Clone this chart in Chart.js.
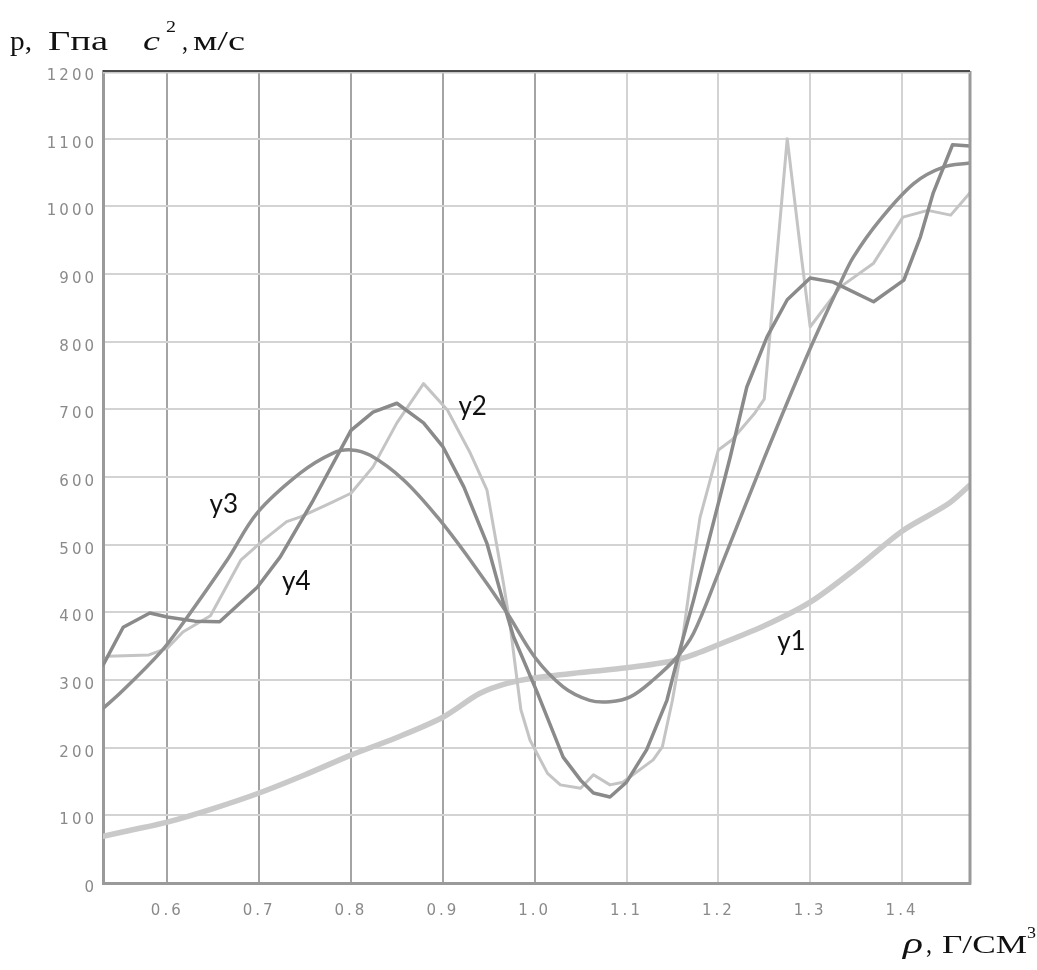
<!DOCTYPE html>
<html>
<head>
<meta charset="utf-8">
<script src="https://cdn.jsdelivr.net/npm/chart.js@4.4.1/dist/chart.umd.min.js"></script>
<style>
  html, body { margin: 0; padding: 0; background: #fff; }
  #wrap { position: relative; width: 1037px; height: 970px; }
</style>
</head>
<body>
<div id="wrap"><canvas id="chart"></canvas></div>
<script>
// axis ticks
const xTicks = [0.6, 0.7, 0.8, 0.9, 1.0, 1.1, 1.2, 1.3, 1.4];
const yTicks = [0, 100, 200, 300, 400, 500, 600, 700, 800, 900, 1000, 1100, 1200];
const xMin = 0.53, xMax = 1.474;

// y1 - pressure curve (light, thick)
const y1X = [0.53, 0.56, 0.6, 0.65, 0.7, 0.75, 0.8, 0.85, 0.9, 0.94, 0.97, 1.0, 1.05, 1.1, 1.15, 1.18, 1.2, 1.25, 1.3, 1.35, 1.4, 1.45, 1.474];
const y1Y = [69, 78, 90, 110, 133, 160, 189, 215, 245, 280, 295, 303, 311, 318, 328, 341, 352, 380, 415, 465, 520, 560, 588];

// y2 - light thin curve with spike
const y2X = [0.53, 0.535, 0.58, 0.6, 0.617, 0.647, 0.68, 0.705, 0.73, 0.745, 0.777, 0.8, 0.824, 0.85, 0.879, 0.905, 0.93, 0.948, 0.959, 0.966, 0.973, 0.978, 0.985, 0.995, 1.014, 1.028, 1.05, 1.064, 1.082, 1.096, 1.129, 1.139, 1.15, 1.159, 1.17, 1.18, 1.2, 1.215, 1.24, 1.25, 1.262, 1.275, 1.29, 1.3, 1.333, 1.369, 1.401, 1.428, 1.453, 1.474];
const y2Y = [322, 335, 337, 347, 371, 395, 477, 507, 534, 541, 561, 576, 615, 680, 738, 699, 635, 581, 497, 443, 384, 330, 256, 211, 162, 145, 140, 160, 145, 149, 182, 201, 270, 340, 450, 540, 640, 655, 695, 715, 900, 1100, 930, 822, 881, 916, 984, 994, 987, 1020];

// y3 - smooth dark curve
const y3X = [0.53, 0.549, 0.592, 0.617, 0.665, 0.698, 0.745, 0.78, 0.8, 0.821, 0.857, 0.894, 0.93, 0.97, 1.0, 1.031, 1.06, 1.082, 1.104, 1.129, 1.155, 1.173, 1.2, 1.25, 1.3, 1.333, 1.347, 1.376, 1.413, 1.445, 1.474];
const y3Y = [258, 281, 340, 384, 477, 547, 606, 635, 640, 632, 596, 541, 477, 399, 334, 290, 270, 268, 275, 300, 334, 369, 458, 628, 790, 887, 925, 980, 1034, 1058, 1064];

// y4 - dark curve with kinks
const y4X = [0.53, 0.552, 0.581, 0.6, 0.63, 0.657, 0.698, 0.723, 0.759, 0.8, 0.824, 0.85, 0.879, 0.9, 0.923, 0.948, 0.966, 0.977, 1.003, 1.031, 1.05, 1.064, 1.082, 1.1, 1.122, 1.144, 1.158, 1.173, 1.213, 1.231, 1.253, 1.275, 1.3, 1.325, 1.369, 1.402, 1.42, 1.434, 1.455, 1.474];
const y4Y = [322, 378, 399, 393, 387, 386, 437, 482, 566, 669, 696, 709, 680, 645, 585, 502, 414, 364, 281, 186, 152, 133, 127, 149, 197, 270, 344, 418, 630, 733, 807, 862, 894, 888, 859, 891, 955, 1020, 1091, 1089];

// curve names and where their labels sit (data space)
const seriesNames = ['y1', 'y2', 'y3', 'y4'];
const nameAtX = [1.264, 0.917, 0.646, 0.725];
const nameAtY = [344, 692, 547, 433];

function pts(xs, ys) {
    return xs.map((x, i) => ({ x: x, y: ys[i] }));
}

function fitText(ctx, text, x, y, font, width) {
    ctx.save();
    ctx.font = font;
    const w = ctx.measureText(text).width;
    ctx.translate(x, y);
    ctx.scale(width / w, 1);
    ctx.fillText(text, 0, 0);
    ctx.restore();
}

const spacing = {
    id: 'spacing',
    beforeDraw(chart) {
        chart.ctx.letterSpacing = '3px';
    },
    beforeDatasetsDraw(chart) {
        chart.ctx.letterSpacing = '0px';
    }
};

const frame = {
    id: 'frame',
    afterDatasetsDraw(chart) {
        const c = chart.ctx;
        const a = chart.chartArea;
        c.save();
        c.lineCap = 'butt';
        // right side
        c.strokeStyle = '#9a9a9a';
        c.lineWidth = 3;
        c.beginPath();
        c.moveTo(a.right, a.top);
        c.lineTo(a.right, a.bottom + 1.5);
        c.stroke();
        // top side
        c.strokeStyle = '#c8c8c8';
        c.lineWidth = 3;
        c.beginPath();
        c.moveTo(a.left, a.top + 1);
        c.lineTo(a.right, a.top + 1);
        c.stroke();
        c.strokeStyle = '#222';
        c.lineWidth = 1.5;
        c.beginPath();
        c.moveTo(a.left, a.top);
        c.lineTo(a.right, a.top);
        c.stroke();
        c.restore();
    },
    afterDraw(chart) {
        const c = chart.ctx;
        const sx = chart.scales.x, sy = chart.scales.y;
        c.save();
        c.letterSpacing = '0px';
        c.fillStyle = '#111';
        c.textAlign = 'left';
        c.textBaseline = 'alphabetic';

        // curve names
        seriesNames.forEach((n, i) => {
            c.font = '26px Lato';
            c.fillText(n, sx.getPixelForValue(nameAtX[i]), sy.getPixelForValue(nameAtY[i]));
        });

        // axis titles
        const serif = '"Liberation Serif", "Times New Roman", serif';
        fitText(c, 'p,', 10, 50, '27px ' + serif, 22);
        fitText(c, 'Гпа', 48, 50, '27px ' + serif, 60);
        fitText(c, 'c', 143, 50, 'italic 27px ' + serif, 17);
        fitText(c, '2', 166, 32, '17px ' + serif, 10);
        fitText(c, ',', 182, 50, '27px ' + serif, 6);
        fitText(c, 'м/с', 193, 50, '27px ' + serif, 52);

        fitText(c, 'ρ', 903, 953, 'italic 29px ' + serif, 20);
        fitText(c, ',', 926, 953, '27px ' + serif, 6);
        fitText(c, 'Г/СМ', 942, 953, '25px ' + serif, 85);
        fitText(c, '3', 1027, 938, '17px ' + serif, 9);
        c.restore();
    }
};

const ctx = document.getElementById('chart');
new Chart(ctx, {
    type: 'line',
    data: {
        datasets: [
            { label: 'y1', data: pts(y1X, y1Y), borderColor: '#c9c9c9', borderWidth: 5.5, tension: 0.3, order: 4 },
            { label: 'y2', data: pts(y2X, y2Y), borderColor: '#c4c4c4', borderWidth: 3, tension: 0, order: 3 },
            { label: 'y3', data: pts(y3X, y3Y), borderColor: '#8f8f8f', borderWidth: 3.5, tension: 0.35, order: 2 },
            { label: 'y4', data: pts(y4X, y4Y), borderColor: '#8a8a8a', borderWidth: 3.5, tension: 0, order: 1 }
        ]
    },
    options: {
        responsive: true,
        maintainAspectRatio: false,
        animation: false,
        layout: { padding: { left: 0, top: 71, right: 67, bottom: 47 } },
        elements: { point: { radius: 0 }, line: { borderJoinStyle: 'round', borderCapStyle: 'round' } },
        plugins: { legend: { display: false }, tooltip: { enabled: false } },
        scales: {
            x: {
                type: 'linear',
                min: xMin,
                max: xMax,
                afterBuildTicks: s => { s.ticks = xTicks.map(v => ({ value: v })); },
                afterFit: s => { s.height = 40; },
                grid: {
                    color: c => (c.tick && c.tick.value <= 1.0 ? '#a4a4a4' : '#d3d3d3'),
                    lineWidth: 2,
                    drawTicks: false
                },
                border: { color: '#9a9a9a', width: 3 },
                ticks: {
                    padding: 19,
                    color: '#8a8a8a',
                    font: { family: 'DejaVu Sans', size: 15 },
                    maxRotation: 0,
                    autoSkip: false,
                    callback: v => v.toFixed(1)
                }
            },
            y: {
                min: 0,
                max: 1200,
                afterBuildTicks: s => { s.ticks = yTicks.map(v => ({ value: v })); },
                afterFit: s => { s.width = 103; },
                grid: { color: '#d3d3d3', lineWidth: 2, drawTicks: false },
                border: { color: '#9a9a9a', width: 3 },
                ticks: {
                    padding: 6,
                    labelOffset: 5,
                    color: '#8a8a8a',
                    font: { family: 'DejaVu Sans', size: 15 },
                    autoSkip: false,
                    callback: v => String(v)
                }
            }
        }
    },
    plugins: [spacing, frame]
});
</script>
</body>
</html>
